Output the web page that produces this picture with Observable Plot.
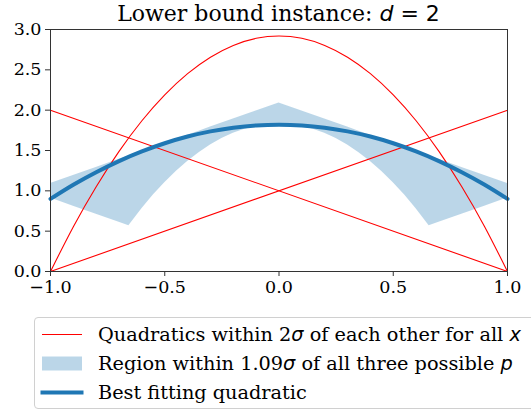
<!DOCTYPE html>
<html>
<head>
<meta charset="utf-8">
<script src="https://cdn.jsdelivr.net/npm/d3@7"></script>
<script src="https://cdn.jsdelivr.net/npm/@observablehq/plot@0.6"></script>
<style>
  html, body { margin: 0; padding: 0; background: #fff; }
  #wrap { position: relative; width: 531px; height: 412px; overflow: hidden; }
  #title { position: absolute; left: 50px; width: 457px; top: 0px; text-align: center;
           font-family: "DejaVu Serif"; font-size: 22px; line-height: 28px; color: #000; white-space: nowrap; }
  .m { font-family: "DejaVu Sans"; }
  .mi { font-family: "DejaVu Sans"; font-style: italic; }
  #chart { position: absolute; left: 0; top: 0; }
  #legend { position: absolute; left: 34px; top: 317px; width: 520px; height: 92px;
            border: 1px solid #d0d0d0; border-radius: 4px; background: #fff; box-sizing: border-box; }
  .row { position: absolute; left: 0; height: 29px; width: 100%; }
  .row svg { position: absolute; left: 5px; top: 0; }
  .row .lab { position: absolute; left: 63px; top: 0; line-height: 29px;
              font-family: "DejaVu Serif"; font-size: 19.3px; color: #000; white-space: nowrap; }
</style>
</head>
<body>
<div id="wrap">
  <div id="chart"></div>
  <div id="title">Lower bound instance: <span class="mi">d</span><span class="m"> = 2</span></div>
  <div id="legend"></div>
</div>
<script>
// ---- data ----
const curveXs = [-1, -0.9, -0.8, -0.7, -0.6, -0.5, -0.4, -0.3, -0.2, -0.1, 0, 0.1, 0.2, 0.3, 0.4, 0.5, 0.6, 0.7, 0.8, 0.9, 1];
const parabolaY = [0, 0.555, 1.051, 1.489, 1.869, 2.19, 2.453, 2.657, 2.803, 2.891, 2.92, 2.891, 2.803, 2.657, 2.453, 2.19, 1.869, 1.489, 1.051, 0.555, 0];
const bestFitY = [0.90, 1.075, 1.231, 1.369, 1.489, 1.59, 1.673, 1.737, 1.783, 1.811, 1.82, 1.811, 1.783, 1.737, 1.673, 1.59, 1.489, 1.369, 1.231, 1.075, 0.90];
const lineXs = [-1, 1];
const fallingY = [2, 0];
const risingY = [0, 2];
const bandXs = [-1, -0.9, -0.8, -0.7, -0.657, -0.6, -0.55, -0.5, -0.45, -0.4, -0.35, -0.3, -0.25, -0.2, -0.15, -0.1, -0.05, 0,
                0.05, 0.1, 0.15, 0.2, 0.25, 0.3, 0.35, 0.4, 0.45, 0.5, 0.55, 0.6, 0.657, 0.7, 0.8, 0.9, 1];
const bandLow = [0.91, 0.81, 0.71, 0.61, 0.567, 0.779, 0.947, 1.10, 1.239, 1.363, 1.472, 1.567, 1.648, 1.713, 1.764, 1.801, 1.823, 1.83,
                 1.823, 1.801, 1.764, 1.713, 1.648, 1.567, 1.472, 1.363, 1.239, 1.10, 0.947, 0.779, 0.567, 0.61, 0.71, 0.81, 0.91];
const bandHigh = [1.09, 1.19, 1.29, 1.39, 1.433, 1.49, 1.54, 1.59, 1.64, 1.69, 1.74, 1.79, 1.84, 1.89, 1.94, 1.99, 2.04, 2.09,
                  2.04, 1.99, 1.94, 1.89, 1.84, 1.79, 1.74, 1.69, 1.64, 1.59, 1.54, 1.49, 1.433, 1.39, 1.29, 1.19, 1.09];
const xTicks = [-1, -0.5, 0, 0.5, 1];
const yTicks = [0, 0.5, 1, 1.5, 2, 2.5, 3];

const legendLabels = [
  'Quadratics within 2<span class="mi">σ</span> of each other for all <span class="mi">x</span>',
  'Region within 1.09<span class="mi">σ</span> of all three possible <span class="mi">p</span>',
  'Best fitting quadratic'
];

const red = "#ff0000";
const blue = "#1f77b4";

const parabola = curveXs.map((x, i) => ({x, y: parabolaY[i]}));
const best = curveXs.map((x, i) => ({x, y: bestFitY[i]}));
const falling = lineXs.map((x, i) => ({x, y: fallingY[i]}));
const rising = lineXs.map((x, i) => ({x, y: risingY[i]}));
const band = bandXs.map((x, i) => ({x, lo: bandLow[i], hi: bandHigh[i]}));

const fmt = v => (v < 0 ? "\u2212" : "") + Math.abs(v).toFixed(1);

const chart = Plot.plot({
  width: 531,
  height: 305,
  marginLeft: 50,
  marginRight: 24,
  marginTop: 29,
  marginBottom: 34,
  style: {fontFamily: "DejaVu Serif", fontSize: "17.5px", color: "#000", background: "transparent"},
  x: {domain: [-1, 1]},
  y: {domain: [0, 3]},
  marks: [
    Plot.areaY(band, {x: "x", y1: "lo", y2: "hi", fill: blue, fillOpacity: 0.3, curve: "linear"}),
    Plot.line(falling, {x: "x", y: "y", stroke: red, strokeWidth: 1.1}),
    Plot.line(rising, {x: "x", y: "y", stroke: red, strokeWidth: 1.1}),
    Plot.line(parabola, {x: "x", y: "y", stroke: red, strokeWidth: 1.1, curve: "natural"}),
    Plot.line(best, {x: "x", y: "y", stroke: blue, strokeWidth: 4, curve: "natural"}),
    Plot.frame({stroke: "#333", strokeWidth: 1}),
    Plot.axisX({ticks: xTicks, tickFormat: fmt, tickSize: 5, tickPadding: 4, label: null, stroke: "#333", color: "#000"}),
    Plot.axisY({ticks: yTicks, tickFormat: fmt, tickSize: 5, tickPadding: 4, label: null, stroke: "#333"})
  ]
});
document.getElementById("chart").appendChild(chart);

// legend
const legend = document.getElementById("legend");
const tops = [2, 31, 60];
legendLabels.forEach((lab, i) => {
  const row = document.createElement("div");
  row.className = "row";
  row.style.top = tops[i] + "px";
  let handle;
  if (i === 0) handle = `<svg width="45" height="29"><line x1="2" x2="42" y1="14.5" y2="14.5" stroke="${red}" stroke-width="1.1"/></svg>`;
  else if (i === 1) handle = `<svg width="45" height="29"><rect x="2" y="7.5" width="40" height="14" fill="${blue}" fill-opacity="0.3"/></svg>`;
  else handle = `<svg width="45" height="29"><line x1="0.5" x2="43.5" y1="14.5" y2="14.5" stroke="${blue}" stroke-width="4"/></svg>`;
  row.innerHTML = handle + `<span class="lab">${lab}</span>`;
  legend.appendChild(row);
});
</script>
</body>
</html>
